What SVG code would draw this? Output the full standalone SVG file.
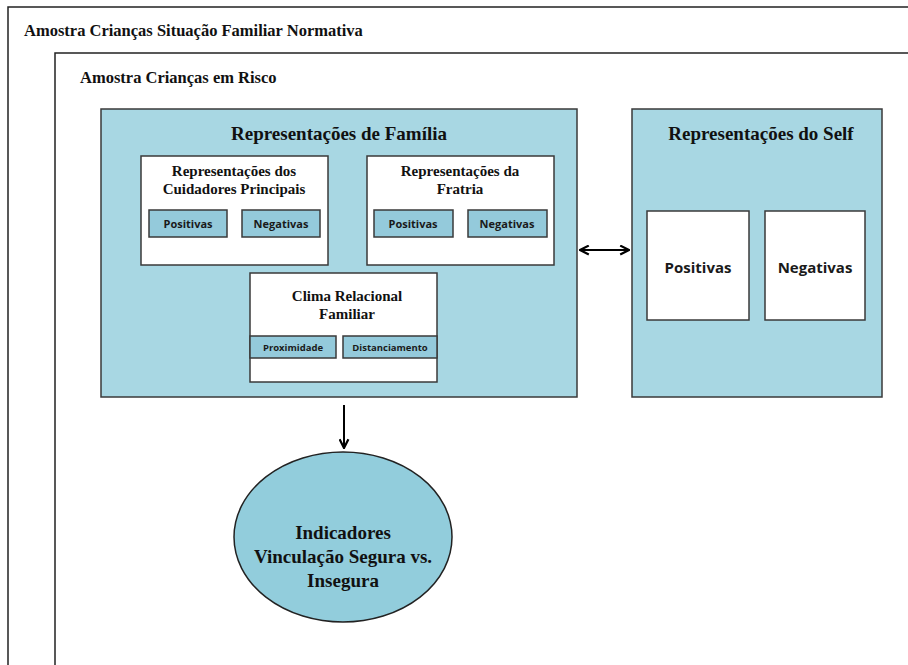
<svg xmlns="http://www.w3.org/2000/svg" width="908" height="665" viewBox="0 0 908 665">
<style>
.frame{fill:none;stroke:#222;stroke-width:1.5}
.big{fill:#a8d7e3;stroke:#3a3a3a;stroke-width:1.5}
.sub{fill:#fff;stroke:#3a3a3a;stroke-width:1.5}
.chip{fill:#94cadb;stroke:#3a3a3a;stroke-width:1.5}
.serif{font-family:"Liberation Serif","DejaVu Serif",serif;font-weight:bold;fill:#111}
.sans{font-family:"Open Sans","Liberation Sans",sans-serif;font-weight:bold;fill:#1a1a1a}
.conn{stroke:#000;stroke-width:2;fill:none}
</style>
<defs>
<marker id="ah" viewBox="0 0 10 10" refX="9" refY="5" markerWidth="5.5" markerHeight="5.5" orient="auto-start-reverse">
<path d="M1,1 L9,5 L1,9" fill="none" stroke="#000" stroke-width="2"/>
</marker>
</defs>
<rect width="908" height="665" fill="#fff"/>
<g id="outer">
<path class="frame" d="M8,680 V7 H920"/>
<text class="serif" x="24" y="36" font-size="16.5">Amostra Crianças Situação Familiar Normativa</text>
</g>
<g id="risco">
<path class="frame" d="M55,680 V53 H920"/>
<text class="serif" x="80" y="83" font-size="16.5">Amostra Crianças em Risco</text>
</g>
<g id="familia">
<rect class="big" x="101" y="109" width="476" height="288"/>
<text class="serif" x="339" y="140" font-size="19" text-anchor="middle">Representações de Família</text>
</g>
<g id="cuidadores">
<rect class="sub" x="141" y="156" width="187" height="109"/>
<text class="serif" x="234" y="176" font-size="15" text-anchor="middle" fill="#222">Representações dos</text>
<text class="serif" x="234" y="194" font-size="15" text-anchor="middle" fill="#222">Cuidadores Principais</text>
<rect class="chip" x="149" y="210" width="78" height="27"/>
<text class="sans" x="188" y="228" font-size="11" text-anchor="middle">Positivas</text>
<rect class="chip" x="242" y="210" width="78" height="27"/>
<text class="sans" x="281" y="228" font-size="11" text-anchor="middle">Negativas</text>
</g>
<g id="fratria">
<rect class="sub" x="367" y="156" width="187" height="109"/>
<text class="serif" x="460" y="176" font-size="15" text-anchor="middle" fill="#222">Representações da</text>
<text class="serif" x="460" y="194" font-size="15" text-anchor="middle" fill="#222">Fratria</text>
<rect class="chip" x="374" y="210" width="79" height="27"/>
<text class="sans" x="413" y="228" font-size="11" text-anchor="middle">Positivas</text>
<rect class="chip" x="468" y="210" width="79" height="27"/>
<text class="sans" x="507" y="228" font-size="11" text-anchor="middle">Negativas</text>
</g>
<g id="clima">
<rect class="sub" x="250" y="273" width="187" height="109"/>
<text class="serif" x="347" y="301" font-size="15" text-anchor="middle" fill="#222">Clima Relacional</text>
<text class="serif" x="347" y="319" font-size="15" text-anchor="middle" fill="#222">Familiar</text>
<rect class="chip" x="250" y="336" width="86" height="22"/>
<text class="sans" x="293" y="351" font-size="9.5" text-anchor="middle">Proximidade</text>
<rect class="chip" x="343" y="336" width="94" height="22"/>
<text class="sans" x="390" y="351" font-size="9.5" text-anchor="middle">Distanciamento</text>
</g>
<g id="self">
<rect class="big" x="632" y="109" width="250" height="288"/>
<text class="serif" x="761" y="140" font-size="19" text-anchor="middle">Representações do Self</text>
<rect class="sub" x="647" y="211" width="102" height="109"/>
<text class="sans" x="698" y="273" font-size="15" text-anchor="middle">Positivas</text>
<rect class="sub" x="765" y="211" width="100" height="109"/>
<text class="sans" x="815" y="273" font-size="15" text-anchor="middle">Negativas</text>
</g>
<g id="indicadores">
<ellipse cx="343" cy="537" rx="109" ry="85" fill="#92cddc" stroke="#222" stroke-width="1.5"/>
<text class="serif" x="343" y="539" font-size="19" text-anchor="middle">Indicadores</text>
<text class="serif" x="343" y="563" font-size="19" text-anchor="middle">Vinculação Segura vs.</text>
<text class="serif" x="343" y="587" font-size="19" text-anchor="middle">Insegura</text>
</g>
<g id="connectors">
<line class="conn" x1="580" y1="250" x2="629" y2="250" marker-start="url(#ah)" marker-end="url(#ah)"/>
<line class="conn" x1="344" y1="405" x2="344" y2="448" marker-end="url(#ah)"/>
</g>
</svg>
